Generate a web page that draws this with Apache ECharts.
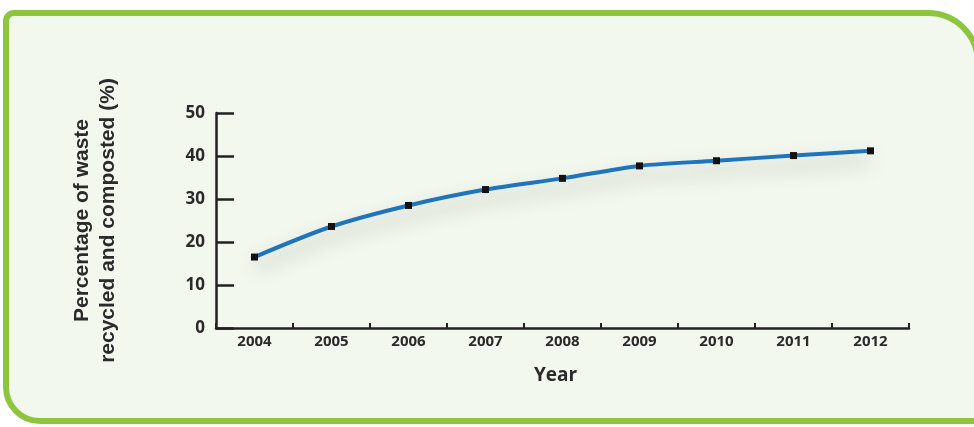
<!DOCTYPE html>
<html>
<head>
<meta charset="utf-8">
<script src="https://cdn.jsdelivr.net/npm/echarts@6/dist/echarts.min.js"></script>
<style>
html,body{margin:0;padding:0;background:#ffffff;}
#chart{width:974px;height:427px;}
</style>
</head>
<body>
<div id="chart"></div>
<script>
const years = ['2004','2005','2006','2007','2008','2009','2010','2011','2012'];
const percentRecycled = [16.5, 23.6, 28.5, 32.2, 34.8, 37.7, 38.9, 40.1, 41.2];
const yTicks = [0, 10, 20, 30, 40, 50];
const yAxisTitle = 'Percentage of waste\nrecycled and composted (%)';
const xAxisTitle = 'Year';

const chart = echarts.init(document.getElementById('chart'), null, {renderer: 'canvas'});
chart.setOption({
  backgroundColor: '#ffffff',
  animation: false,
  graphic: [{
    type: 'rect',
    z: -10,
    silent: true,
    shape: {x: 6, y: 13, width: 972, height: 408, r: [8, 50, 0, 34]},
    style: {fill: '#f3f8ef', stroke: '#8cc63f', lineWidth: 6}
  }],
  grid: {left: 216, right: 65, top: 113, bottom: 99, containLabel: false},
  xAxis: {
    type: 'category',
    data: years,
    boundaryGap: true,
    name: xAxisTitle,
    nameLocation: 'middle',
    nameGap: 38,
    nameTextStyle: {fontFamily: 'Open Sans', fontWeight: 'bold', fontSize: 19, color: '#2a2a2a', padding: [0, 14, 0, 0]},
    axisLine: {lineStyle: {color: '#222', width: 2.5}},
    axisTick: {show: true, inside: true, length: 5, lineStyle: {color: '#222', width: 2}},
    axisLabel: {fontFamily: 'Open Sans', fontWeight: 'bold', fontSize: 15, color: '#2a2a2a', margin: 6},
    splitLine: {show: false}
  },
  yAxis: {
    type: 'value',
    min: yTicks[0],
    max: yTicks[yTicks.length - 1],
    interval: 10,
    name: yAxisTitle,
    nameLocation: 'middle',
    nameRotate: 90,
    nameGap: 95,
    nameTextStyle: {fontFamily: 'Liberation Sans', fontWeight: 'bold', fontSize: 21, color: '#2a2a2a', lineHeight: 26, align: 'center'},
    axisLine: {show: true, lineStyle: {color: '#222', width: 2.5}},
    axisTick: {show: true, inside: true, length: 18, lineStyle: {color: '#222', width: 2.5}},
    axisLabel: {fontFamily: 'Open Sans', fontWeight: 'bold', fontSize: 17, color: '#2a2a2a', margin: 11},
    splitLine: {show: false}
  },
  series: [{
    type: 'line',
    data: percentRecycled,
    smooth: 0.3,
    symbol: 'rect',
    symbolSize: 7,
    itemStyle: {color: '#111111'},
    lineStyle: {color: '#1f74bc', width: 4, shadowColor: 'rgba(0,0,0,0.3)', shadowBlur: 20, shadowOffsetY: 10}
  }]
});
</script>
</body>
</html>
